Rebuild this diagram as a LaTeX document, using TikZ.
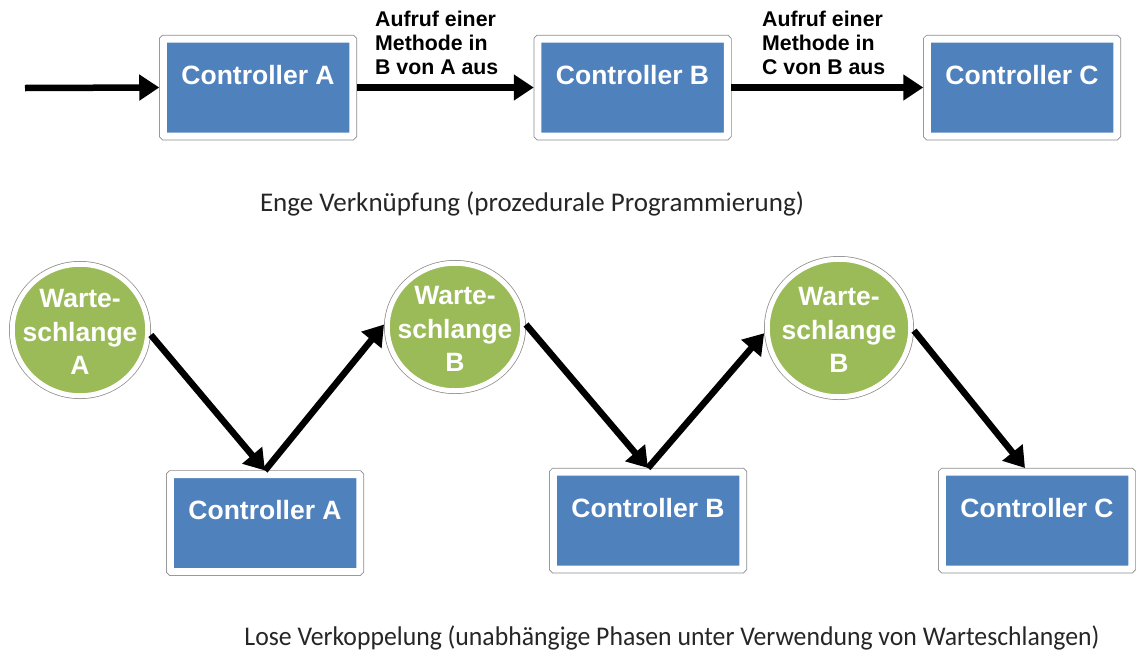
\documentclass[tikz,border=0pt]{standalone}
\usepackage{fontspec}
\usepackage{graphicx}
\setmainfont{Liberation Sans}
\newfontfamily\capfont{Carlito}
\usetikzlibrary{arrows.meta,shapes.geometric}
\definecolor{ctlblue}{HTML}{4F81BD}
\definecolor{qgreen}{HTML}{9BBB59}
\definecolor{rimgray}{HTML}{8C8C8C}
\definecolor{captext}{HTML}{262626}
\begin{document}
\begin{tikzpicture}[x=1pt,y=-1pt,
  ctl/.style={rectangle, rounded corners=1pt, minimum width=189.5pt, minimum height=97pt,
    inner sep=0pt, outer sep=4pt, fill=ctlblue, draw=white, line width=7pt,
    preaction={draw=rimgray, line width=8.5pt},
    text=white, font=\bfseries\fontsize{26.5}{30}\selectfont,
    text height=45pt, text depth=52pt},
  queue/.style={ellipse, inner sep=0pt, outer sep=3.3pt, fill=qgreen, draw=white,
    line width=5pt, preaction={draw=rimgray, line width=6.5pt}},
  qtext/.style={text=white, font=\bfseries\fontsize{26.5}{33.5}\selectfont, align=center, inner sep=0pt},
  calllabel/.style={font=\bfseries\fontsize{21.3}{24}\selectfont, align=left, anchor=north west, inner sep=0pt},
  caption/.style={font=\capfont\fontsize{27}{31}\selectfont, text=captext, anchor=base, inner sep=0pt},
  flow/.style={line width=6.5pt, -{Triangle[length=20pt,width=25pt]}}
]
\useasboundingbox (0,0) rectangle (1136,654);

% top row
\coordinate (start) at (25,88);
\node[ctl] (tA) at (258,87.5) {Controller A};
\node[ctl] (tB) at (632.5,87.5) {Controller B};
\node[ctl] (tC) at (1022,87.5) {Controller C};
\draw[flow] (start) -- (tA.west);
\draw[flow] (tA.east) -- (tB.west);
\draw[flow] (tB.east) -- (tC.west);
\node[calllabel] (lab1) at (375,11) {Aufruf einer\\Methode in\\B von A aus};
\node[calllabel] (lab2) at (762,11) {Aufruf einer\\Methode in\\C von B aus};

\node[caption] (cap1) at (532,211) {Enge Verknüpfung (prozedurale Programmierung)};

% bottom row
\node[queue, minimum width=135.5pt, minimum height=131.5pt] (eA) at (80,330) {};
\node[queue, minimum width=135.5pt, minimum height=127.5pt] (eB) at (455,327) {};
\node[queue, minimum width=143.5pt, minimum height=137.5pt] (eC) at (839,328) {};
\node[qtext] (qA) at ([yshift=-2pt]eA) {Warte-\\schlange\\A};
\node[qtext] (qB) at ([yshift=-2pt]eB) {Warte-\\schlange\\B};
\node[qtext] (qC) at ([yshift=-2pt]eC) {Warte-\\schlange\\B};

\node[ctl] (bA) at (265,523) {Controller A};
\node[ctl] (bB) at (648,520.5) {Controller B};
\node[ctl] (bC) at (1037,520.5) {Controller C};

\draw[flow] (eA.-4) -- (bA.north);
\draw[flow] (bA.north) -- (eB.178);
\draw[flow] (eB.2) -- (bB.north);
\draw[flow] (bB.north) -- (eC.184);
\draw[flow] (eC.-2) -- ([xshift=-12pt]bC.north);

\node[caption] (cap2) at (672,645) {\scalebox{0.953}[1]{Lose Verkoppelung (unabhängige Phasen unter Verwendung von Warteschlangen)}};
\end{tikzpicture}
\end{document}
